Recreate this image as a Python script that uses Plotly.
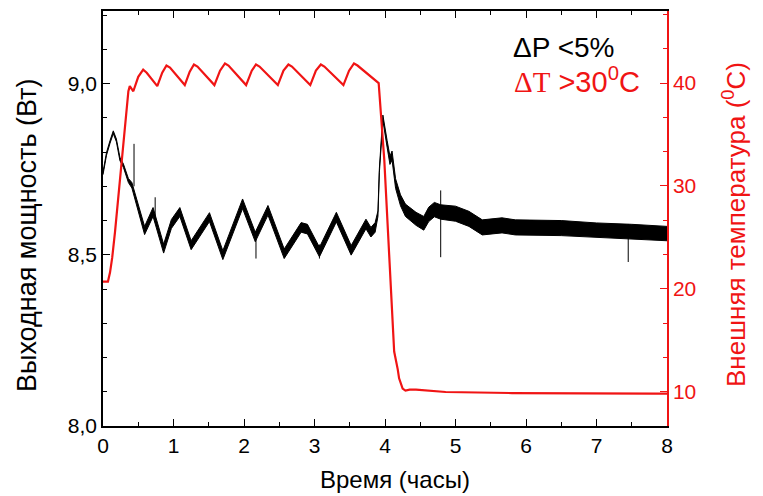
import plotly.graph_objects as go

# ---- Output power (W): time, centre of noisy band, half-thickness of band ----
power_t = [0.00, 0.05, 0.10, 0.146, 0.19, 0.24, 0.29, 0.36, 0.41, 0.50, 0.59, 0.71, 0.86, 0.97,
           1.09, 1.25, 1.51, 1.70, 1.98, 2.16, 2.34, 2.57, 2.81, 2.90, 3.07, 3.31, 3.52, 3.73,
           3.80, 3.86, 3.90, 3.92, 3.97, 4.03, 4.07, 4.10, 4.15, 4.22, 4.29, 4.44, 4.55, 4.62,
           4.70, 4.79, 5.00, 5.19, 5.38, 5.66, 5.85, 6.50, 7.00, 7.50, 8.00]
power_mid = [8.738, 8.795, 8.830, 8.858, 8.834, 8.780, 8.760, 8.717, 8.703, 8.640, 8.571, 8.625,
             8.518, 8.590, 8.625, 8.528, 8.610, 8.499, 8.649, 8.552, 8.630, 8.503, 8.580, 8.575,
             8.508, 8.610, 8.513, 8.590, 8.566, 8.580, 8.620, 8.746, 8.900, 8.824, 8.776, 8.790,
             8.708, 8.659, 8.630, 8.605, 8.592, 8.618, 8.632, 8.625, 8.620, 8.605, 8.580, 8.586,
             8.580, 8.578, 8.572, 8.568, 8.562]
power_spread = [0.004, 0.004, 0.004, 0.004, 0.004, 0.005, 0.005, 0.006, 0.008, 0.010, 0.012, 0.013,
                0.013, 0.013, 0.013, 0.013, 0.013, 0.013, 0.014, 0.014, 0.014, 0.014, 0.014, 0.014,
                0.014, 0.014, 0.014, 0.014, 0.014, 0.014, 0.008, 0.006, 0.008, 0.010, 0.012, 0.013,
                0.014, 0.016, 0.018, 0.019, 0.020, 0.021, 0.021, 0.021, 0.022, 0.022, 0.022, 0.022,
                0.022, 0.022, 0.021, 0.021, 0.021]

# isolated noise spikes (time, low, high)
spike_t = [0.44, 0.74, 2.17, 3.07, 4.79, 7.45]
spike_lo = [8.700, 8.600, 8.489, 8.489, 8.493, 8.479]
spike_hi = [8.824, 8.668, 8.560, 8.530, 8.688, 8.590]

# ---- Ambient temperature (degC) ----
temp_t = [0.00, 0.07, 0.10, 0.13, 0.17, 0.26, 0.34, 0.36, 0.38, 0.43, 0.50, 0.57, 0.62,
          0.77, 0.84, 0.90, 0.95, 1.16, 1.23, 1.29, 1.34, 1.58, 1.66, 1.73, 1.78,
          2.03, 2.11, 2.17, 2.22, 2.48, 2.56, 2.63, 2.68, 2.94, 3.02, 3.09, 3.14,
          3.41, 3.49, 3.56, 3.61, 3.90, 3.91, 3.99, 4.06, 4.13, 4.18, 4.20, 4.25,
          4.29, 4.35, 4.44, 4.86, 5.80, 7.83, 8.00]
temp_val = [20.7, 20.7, 21.6, 23.0, 25.5, 31.9, 38.3, 39.2, 39.7, 39.2, 40.6, 41.3, 41.0,
            39.7, 41.0, 41.7, 41.5, 39.8, 41.1, 41.8, 41.6, 39.8, 41.2, 41.9, 41.7,
            39.8, 41.2, 41.8, 41.6, 39.8, 41.2, 41.8, 41.6, 39.8, 41.2, 41.8, 41.6,
            39.8, 41.2, 41.9, 41.7, 40.1, 40.0, 32.5, 22.8, 13.9, 12.2, 11.3, 10.3,
            10.1, 10.2, 10.2, 9.97, 9.87, 9.81, 9.81]

x_title = "Время (часы)"
y_title = "Выходная мощность (Вт)"
y2_title = "Внешняя температура (<sup>0</sup>C)"
note_p = "ΔP &lt;5%"
note_t = '<span style="font-family:Liberation Serif">ΔT</span> &gt;30<sup>0</sup>C'

FONT = "Liberation Sans, Arial, sans-serif"
RED = "#f01414"

p_hi = [m + s for m, s in zip(power_mid, power_spread)]
p_lo = [m - s for m, s in zip(power_mid, power_spread)]

spx, spy = [], []
for t, lo, hi in zip(spike_t, spike_lo, spike_hi):
    spx += [t, t, None]
    spy += [lo, hi, None]

fig = go.Figure()
fig.add_trace(go.Scatter(x=power_t, y=p_hi, mode="lines", line=dict(color="black", width=1),
                         showlegend=False, hoverinfo="skip"))
fig.add_trace(go.Scatter(x=power_t, y=p_lo, mode="lines", line=dict(color="black", width=1),
                         fill="tonexty", fillcolor="black", showlegend=False))
fig.add_trace(go.Scatter(x=spx, y=spy, mode="lines", line=dict(color="black", width=1),
                         showlegend=False))
fig.add_trace(go.Scatter(x=temp_t, y=temp_val, mode="lines", yaxis="y2",
                         line=dict(color=RED, width=2.2), showlegend=False))

# plot area in page pixels: x 103..667, y 11..426
PL, PR, PT, PB = 103, 667, 11, 426


def px(x):
    return (x - PL) / (PR - PL)


def py(y):
    return (PB - y) / (PB - PT)


fig.update_layout(
    width=763, height=496,
    margin=dict(l=PL, r=763 - PR, t=PT, b=496 - PB, autoexpand=False),
    paper_bgcolor="white", plot_bgcolor="white",
    separators=", ",
    font=dict(family=FONT, size=21, color="black"),
    xaxis=dict(range=[0, 8], tickmode="linear", tick0=0, dtick=1, automargin=False,
               ticks="inside", ticklen=7, tickwidth=1.3, tickcolor="black",
               minor=dict(dtick=0.5, ticks="inside", ticklen=4, tickcolor="black", tickwidth=1.3),
               showline=True, linecolor="black", linewidth=1.5, mirror="ticks",
               showgrid=False, zeroline=False,
               tickfont=dict(family=FONT, size=21, color="black")),
    yaxis=dict(range=[8.0, 9.212], tickmode="linear", tick0=8.0, dtick=0.5, tickformat=".1f",
               automargin=False,
               ticks="inside", ticklen=7, tickwidth=1.3, tickcolor="black",
               minor=dict(dtick=0.1, ticks="inside", ticklen=4, tickcolor="black", tickwidth=1.3),
               showline=True, linecolor="black", linewidth=1.5,
               showgrid=False, zeroline=False,
               tickfont=dict(family=FONT, size=21, color="black")),
    yaxis2=dict(range=[6.667, 47.0], overlaying="y", side="right", automargin=False,
                tickmode="linear", tick0=0, dtick=10,
                ticks="inside", ticklen=7, tickwidth=1.3, tickcolor=RED,
                minor=dict(dtick=10 / 3, ticks="inside", ticklen=4, tickcolor=RED, tickwidth=1.3),
                showline=True, linecolor=RED, linewidth=1.5,
                showgrid=False, zeroline=False,
                tickfont=dict(family=FONT, size=21, color=RED)),
    annotations=[
        dict(text=x_title, xref="paper", yref="paper", x=px(395), y=py(479),
             xanchor="center", yanchor="middle", showarrow=False,
             font=dict(family=FONT, size=24, color="black")),
        dict(text=y_title, xref="paper", yref="paper", x=px(27), y=py(236), textangle=-90,
             xanchor="center", yanchor="middle", showarrow=False,
             font=dict(family=FONT, size=27, color="black")),
        dict(text=y2_title, xref="paper", yref="paper", x=px(735), y=py(225), textangle=-90,
             xanchor="center", yanchor="middle", showarrow=False,
             font=dict(family=FONT, size=26, color=RED)),
        dict(text=note_p, xref="paper", yref="paper", x=px(563), y=py(47), xanchor="center",
             yanchor="middle", showarrow=False, font=dict(family=FONT, size=28, color="black")),
        dict(text=note_t, xref="paper", yref="paper", x=px(577), y=py(80), xanchor="center",
             yanchor="middle", showarrow=False, font=dict(family=FONT, size=29, color=RED)),
    ],
)

fig.write_html("out.html", config={"displayModeBar": False},
               post_script="document.body.style.margin='0';document.body.style.overflow='hidden';")
